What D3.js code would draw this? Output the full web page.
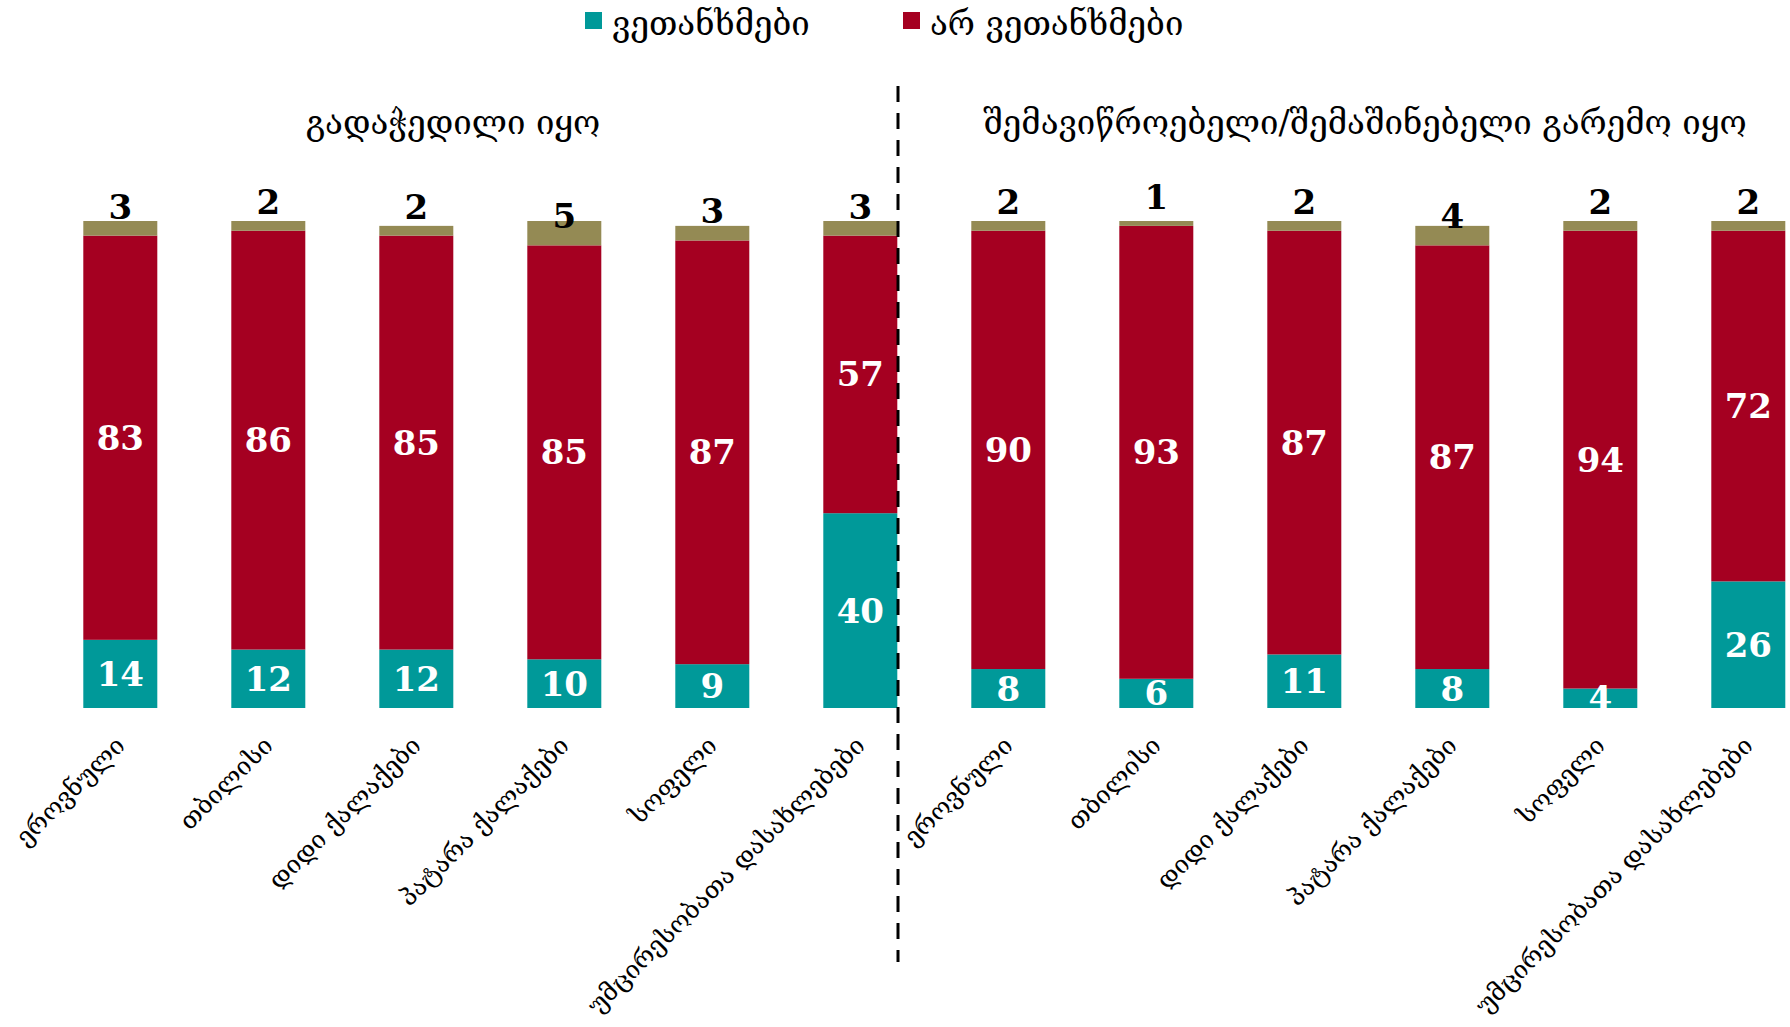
<!DOCTYPE html>
<html><head><meta charset="utf-8">
<script src="https://cdn.jsdelivr.net/npm/d3@7"></script>
<style>
html,body{margin:0;padding:0;background:#fff;}
svg{display:block;}
</style></head>
<body>
<svg id="chart" width="1790" height="1027"></svg>
<script>
const categories = ["ეროვნული","თბილისი","დიდი ქალაქები","პატარა ქალაქები","სოფელი","უმცირესობათა დასახლებები"];
const groups = ["გადაჭედილი იყო","შემავიწროებელი/შემაშინებელი გარემო იყო"];
const seriesNames = ["ვეთანხმები","არ ვეთანხმები","არ ვიცი"];
const agree    = [14,12,12,10,9,40, 8,6,11,8,4,26];
const disagree = [83,86,85,85,87,57, 90,93,87,87,94,72];
const dontKnow = [3,2,2,5,3,3, 2,1,2,4,2,2];
const colors = ["#009999","#A50021","#948A54"];

const svg = d3.select("#chart");
const GEO = "'DejaVu Serif','DejaVu Sans',serif";
const NUM = "'DejaVu Serif',serif";

const n = agree.length;
const x = d3.scaleBand().domain(d3.range(n)).range([46.3, 46.3 + 12*148]).paddingInner(0.5).paddingOuter(0.25);
const y = d3.scaleLinear().domain([0,100]).range([708, 221]);

const rows = d3.range(n).map(i => ({i, v:[agree[i], disagree[i], dontKnow[i]]}));
const stack = d3.stack().keys([0,1,2]).value((d,k)=>d.v[k]);
const stacked = stack(rows);

stacked.forEach((layer, k) => {
  svg.append("g").selectAll("rect").data(layer).join("rect")
    .attr("x", d => x(d.data.i))
    .attr("width", x.bandwidth())
    .attr("y", d => y(d[1]))
    .attr("height", d => y(d[0]) - y(d[1]))
    .attr("fill", colors[k]);
});

// labels inside bars
[0,1].forEach(k => {
  svg.append("g").selectAll("text").data(stacked[k]).join("text")
    .attr("x", d => x(d.data.i) + x.bandwidth()/2)
    .attr("y", d => (y(d[0]) + y(d[1]))/2)
    .attr("text-anchor","middle")
    .attr("dominant-baseline","central")
    .attr("fill","#fff")
    .attr("font-family", NUM)
    .attr("font-weight","bold")
    .attr("font-size", 34)
    .text(d => d.data.v[k]);
});
// labels for third series above
svg.append("g").selectAll("text").data(stacked[2]).join("text")
  .attr("x", d => x(d.data.i) + x.bandwidth()/2)
  .attr("y", d => y(d[0]) - 17)
  .attr("text-anchor","middle")
  .attr("fill","#000")
  .attr("font-family", NUM)
  .attr("font-weight","bold")
  .attr("font-size", 34)
  .text(d => d.data.v[2]);

// x axis labels
const xAxis = d3.axisBottom(x).tickSize(0).tickFormat(i => categories[i % categories.length]);
const gx = svg.append("g").attr("transform","translate(0,708)").call(xAxis);
gx.select(".domain").remove();
gx.selectAll("text")
  .attr("font-family", GEO)
  .attr("font-size", 25)
  .attr("fill","#000")
  .attr("text-anchor","end")
  .attr("dy", null)
  .attr("y", 0)
  .attr("transform", "translate(6,39) rotate(-45)");

// group titles
const titleX = [453, 1365];
svg.append("g").selectAll("text").data(groups).join("text")
  .attr("x", (d,i) => titleX[i])
  .attr("y", 134)
  .attr("text-anchor","middle")
  .attr("font-family", GEO)
  .attr("font-size", 33)
  .attr("fill","#000")
  .text(d => d);

// divider
svg.append("line")
  .attr("x1", 898).attr("x2", 898).attr("y1", 86).attr("y2", 962)
  .attr("stroke","#000").attr("stroke-width",3).attr("stroke-dasharray","16,11");

// legend
const legendX = [585, 903];
const lg = svg.append("g").selectAll("g").data([0,1]).join("g")
  .attr("transform", k => `translate(${legendX[k]},0)`);
lg.append("rect").attr("x",0).attr("y",12).attr("width",17).attr("height",17).attr("fill", k => colors[k]);
lg.append("text").attr("x",27).attr("y",35)
  .attr("font-family", GEO).attr("font-size", 33).attr("fill","#000")
  .text(k => seriesNames[k]);
</script>
</body></html>
